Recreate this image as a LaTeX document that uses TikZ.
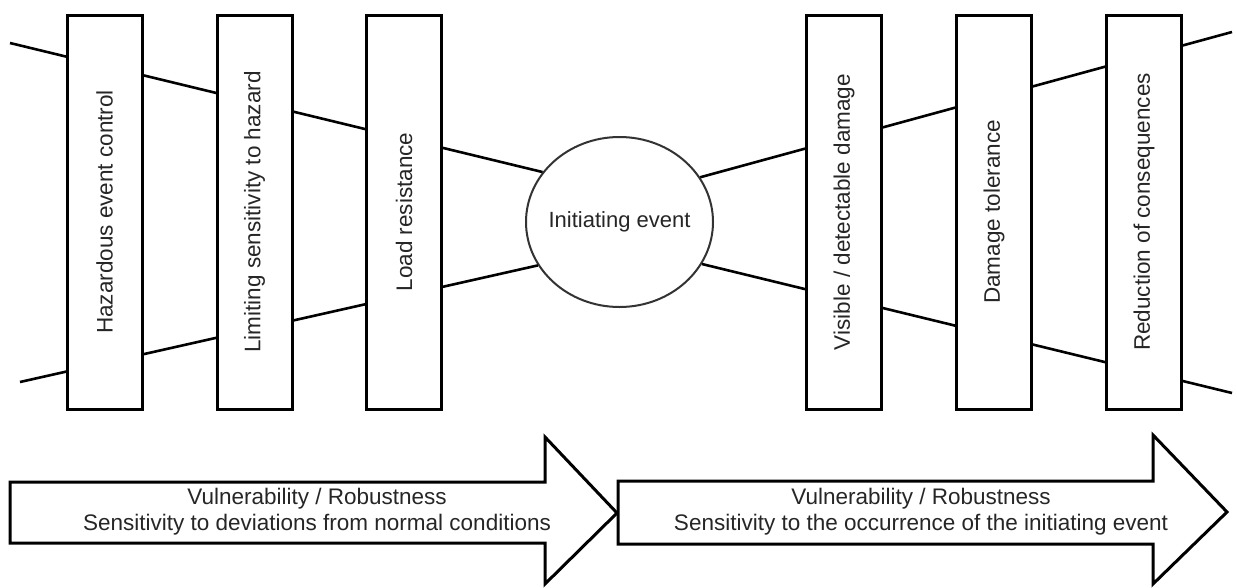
\documentclass[tikz,border=0pt]{standalone}
\usepackage{fontspec}
\setmainfont{Liberation Sans}
\usetikzlibrary{shapes.geometric}
\begin{document}
\begin{tikzpicture}[x=1pt,y=-1pt,
  barrier/.style={draw=black, line width=3pt, fill=white, rotate=90,
    minimum width=394pt, minimum height=75pt, inner sep=0pt,
    font=\fontsize{22.5}{26}\selectfont, text=black!85},
  link/.style={draw=black, line width=2.6pt},
  bigarrow/.style={draw=black, line width=3pt, fill=white, line join=miter},
  atext/.style={align=center, font=\fontsize{22.5}{26}\selectfont, text=black!85, inner sep=0pt},
  eventnode/.style={ellipse, draw=black!80, line width=2pt, fill=white,
    minimum width=187pt, minimum height=170pt, inner xsep=-20pt, inner ysep=0pt,
    font=\fontsize{22}{26}\selectfont, text=black!85}]
\useasboundingbox[fill=white] (0,0) rectangle (1237,587);

% central event
\node[eventnode] (ev) at (619.5,222) {Initiating event};

% free ends of the bow-tie lines
\coordinate (tl) at (10,43);
\coordinate (bl) at (20,382);
\coordinate (tr) at (1232,32);
\coordinate (br) at (1232,393);

\draw[link] (tl) -- (ev.147.7);
\draw[link] (bl) -- (ev.208.1);
\draw[link] (ev.29.7) -- (tr);
\draw[link] (ev.333.8) -- (br);

% barriers
\node[barrier] (b1) at (104.5,212) {Hazardous event control};
\node[barrier] (b2) at (254.5,212) {Limiting sensitivity to hazard};
\node[barrier] (b3) at (404,212) {Load resistance};
\node[barrier] (b4) at (844,212) {Visible / detectable damage};
\node[barrier] (b5) at (994,212) {Damage tolerance};
\node[barrier] (b6) at (1144,212) {Reduction of consequences};

% big arrows
\draw[bigarrow] (10,482) -- (545,482) -- (545,437) -- (617,513) -- (545,584) -- (545,543) -- (10,543) -- cycle;
\draw[bigarrow] (618,481) -- (1153,481) -- (1153,435) -- (1227,512) -- (1153,584) -- (1153,544) -- (618,544) -- cycle;

\node[atext] (a1) at (317,512) {Vulnerability / Robustness\\Sensitivity to deviations from normal conditions};
\node[atext] (a2) at (921,512) {Vulnerability / Robustness\\Sensitivity to the occurrence of the initiating event};
\end{tikzpicture}
\end{document}
